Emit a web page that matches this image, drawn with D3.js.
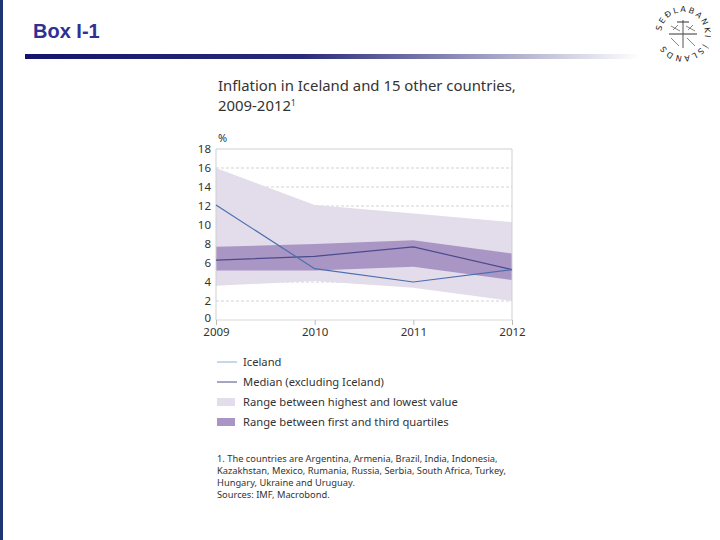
<!DOCTYPE html>
<html><head><meta charset="utf-8">
<script src="https://cdn.jsdelivr.net/npm/d3@7"></script>
<style>body{margin:0;background:#fff}svg{display:block}</style>
</head><body>
<script>
const years = [2009, 2010, 2011, 2012];
const iceland = [12.1, 5.4, 4.0, 5.3];
const median = [6.3, 6.7, 7.7, 5.3];
const highest = [16.0, 12.1, 11.2, 10.3];
const lowest = [3.6, 4.1, 3.4, 2.0];
const q3 = [7.7, 8.0, 8.4, 7.0];
const q1 = [5.2, 5.2, 5.6, 4.2];
const yTicks = [0, 2, 4, 6, 8, 10, 12, 14, 16, 18];
const legendLabels = ["Iceland", "Median (excluding Iceland)", "Range between highest and lowest value", "Range between first and third quartiles"];
const footnote = ["1. The countries are Argentina, Armenia, Brazil, India, Indonesia,", "Kazakhstan, Mexico, Rumania, Russia, Serbia, South Africa, Turkey,", "Hungary, Ukraine and Uruguay.", "Sources: IMF, Macrobond."];

const W = 720, H = 540;
const svg = d3.select("body").append("svg").attr("width", W).attr("height", H);
const font = "'Noto Sans', 'Open Sans', sans-serif";

// page decoration
const defs = svg.append("defs");
const grad = defs.append("linearGradient").attr("id", "hbar");
grad.append("stop").attr("offset", "0%").attr("stop-color", "#14146b");
grad.append("stop").attr("offset", "45%").attr("stop-color", "#2a2a7a");
grad.append("stop").attr("offset", "100%").attr("stop-color", "#ffffff");
svg.append("rect").attr("x", 0).attr("y", 0).attr("width", 3).attr("height", H).attr("fill", "#1d3570");
svg.append("rect").attr("x", 25).attr("y", 54).attr("width", 615).attr("height", 5).attr("fill", "url(#hbar)");
svg.append("text").attr("x", 33).attr("y", 38).text("Box I-1")
  .attr("font-family", "Arial, 'Liberation Sans', sans-serif").attr("font-weight", "bold")
  .attr("font-size", 20).attr("fill", "#2e3192");

// logo seal
const logo = svg.append("g").attr("transform", "translate(683,34)");
defs.append("path").attr("id", "sealArc").attr("d", "M -22,0 A 22,22 0 1,1 22,0 A 22,22 0 1,1 -22,0");
logo.append("text").attr("font-family", "DejaVu Sans, sans-serif").attr("font-size", 8).attr("fill", "#222")
  .attr("letter-spacing", 2)
  .append("textPath").attr("href", "#sealArc").attr("startOffset", "2%").text("SEÐLABANKI  ÍSLANDS");
logo.append("line").attr("x1", -14).attr("x2", 14).attr("y1", 0).attr("y2", 0).attr("stroke", "#333").attr("stroke-width", 1);
logo.append("line").attr("x1", 0).attr("x2", 0).attr("y1", -14).attr("y2", 14).attr("stroke", "#555").attr("stroke-width", 1);
logo.append("line").attr("x1", -6).attr("x2", 6).attr("y1", -12).attr("y2", -12).attr("stroke", "#333").attr("stroke-width", 1);
logo.append("path").attr("d", "M-12,-8 L-3,-3 M3,-8 L12,-3 M-12,4 L-4,12 M4,4 L12,12 M-10,-4 L-5,-9 M5,-4 L10,-9")
  .attr("stroke", "#666").attr("stroke-width", 0.8).attr("fill", "none");

// chart
const x = d3.scaleLinear().domain([2009, 2012]).range([216, 512]);
const y = d3.scaleLinear().domain([0, 18]).range([320, 149]);
const g = svg.append("g");

svg.append("text").attr("x", 218).attr("y", 91).text("Inflation in Iceland and 15 other countries,")
  .attr("font-family", font).attr("font-size", 14.9).attr("fill", "#333");
const t2 = svg.append("text").attr("x", 218).attr("y", 111).attr("font-family", font).attr("font-size", 14.9).attr("fill", "#333");
t2.append("tspan").text("2009-2012");
t2.append("tspan").text("1").attr("font-size", 8).attr("dy", -5);
svg.append("text").attr("x", 218).attr("y", 142).text("%").attr("font-family", font).attr("font-size", 11).attr("fill", "#333");

// gridlines
g.selectAll(".grid").data(yTicks.filter(d => d > 0 && d < 18)).join("line")
  .attr("x1", x(2009)).attr("x2", x(2012)).attr("y1", d => y(d)).attr("y2", d => y(d))
  .attr("stroke", "#c8c8c8").attr("stroke-width", 0.8).attr("stroke-dasharray", "3,2");

const idx = d3.range(years.length);
const area = (hi, lo) => d3.area().x(i => x(years[i])).y0(i => y(lo[i])).y1(i => y(hi[i]));
g.append("path").attr("d", area(highest, lowest)(idx)).attr("fill", "#e3dcea");
g.append("path").attr("d", area(q3, q1)(idx)).attr("fill", "#a996c4");

// frame
g.append("line").attr("x1", x(2009)).attr("x2", x(2012)).attr("y1", y(18)).attr("y2", y(18)).attr("stroke", "#cfcfcf");
g.append("line").attr("x1", x(2012)).attr("x2", x(2012)).attr("y1", y(18)).attr("y2", y(0)).attr("stroke", "#cfcfcf");
g.append("line").attr("x1", x(2009)).attr("x2", x(2009)).attr("y1", y(18)).attr("y2", y(0)).attr("stroke", "#cfcfcf");
g.append("line").attr("x1", x(2009)).attr("x2", x(2012)).attr("y1", y(0)).attr("y2", y(0)).attr("stroke", "#d8d8d8");

const line = vals => d3.line().x(i => x(years[i])).y(i => y(vals[i]))(idx);
g.append("path").attr("d", line(median)).attr("fill", "none").attr("stroke", "#4a4a8c").attr("stroke-width", 1.2);
g.append("path").attr("d", line(iceland)).attr("fill", "none").attr("stroke", "#4a6fae").attr("stroke-width", 1.2);

// axes
const yAxis = d3.axisLeft(y).tickValues(yTicks).tickSize(0).tickPadding(5);
const ya = svg.append("g").attr("transform", `translate(${x(2009)},0)`).call(yAxis);
ya.select(".domain").remove();
ya.selectAll("text").attr("font-family", font).attr("font-size", 11.5).attr("fill", "#333");
ya.selectAll(".tick").filter(d => d === 0).select("text").attr("dy", "0.1em");
const xAxis = d3.axisBottom(x).tickValues(years).tickFormat(d3.format("d")).tickSize(5).tickPadding(3);
const xa = svg.append("g").attr("transform", `translate(0,${y(0)})`).call(xAxis);
xa.select(".domain").remove();
xa.selectAll("line").attr("stroke", "#bbb");
xa.selectAll("text").attr("font-family", font).attr("font-size", 11.5).attr("fill", "#333");

// legend
const lg = svg.append("g");
const legY = [362, 382, 402, 422];
lg.append("line").attr("x1", 217).attr("x2", 237).attr("y1", legY[0]).attr("y2", legY[0]).attr("stroke", "#8fb0d0").attr("stroke-width", 1);
lg.append("line").attr("x1", 217).attr("x2", 237).attr("y1", legY[1]).attr("y2", legY[1]).attr("stroke", "#4a4a8c").attr("stroke-width", 1);
lg.append("rect").attr("x", 217).attr("y", legY[2] - 4).attr("width", 18).attr("height", 8).attr("fill", "#e3dcea");
lg.append("rect").attr("x", 217).attr("y", legY[3] - 4).attr("width", 18).attr("height", 8).attr("fill", "#a996c4");
lg.selectAll("text").data(legendLabels).join("text")
  .attr("x", 243).attr("y", (d, i) => legY[i] + 4).text(d => d)
  .attr("font-family", font).attr("font-size", 11.2).attr("fill", "#333");

svg.append("g").selectAll("text").data(footnote).join("text")
  .attr("x", 217).attr("y", (d, i) => 462 + i * 12).text(d => d)
  .attr("font-family", font).attr("font-size", 9.3).attr("fill", "#333");
</script>
</body></html>
